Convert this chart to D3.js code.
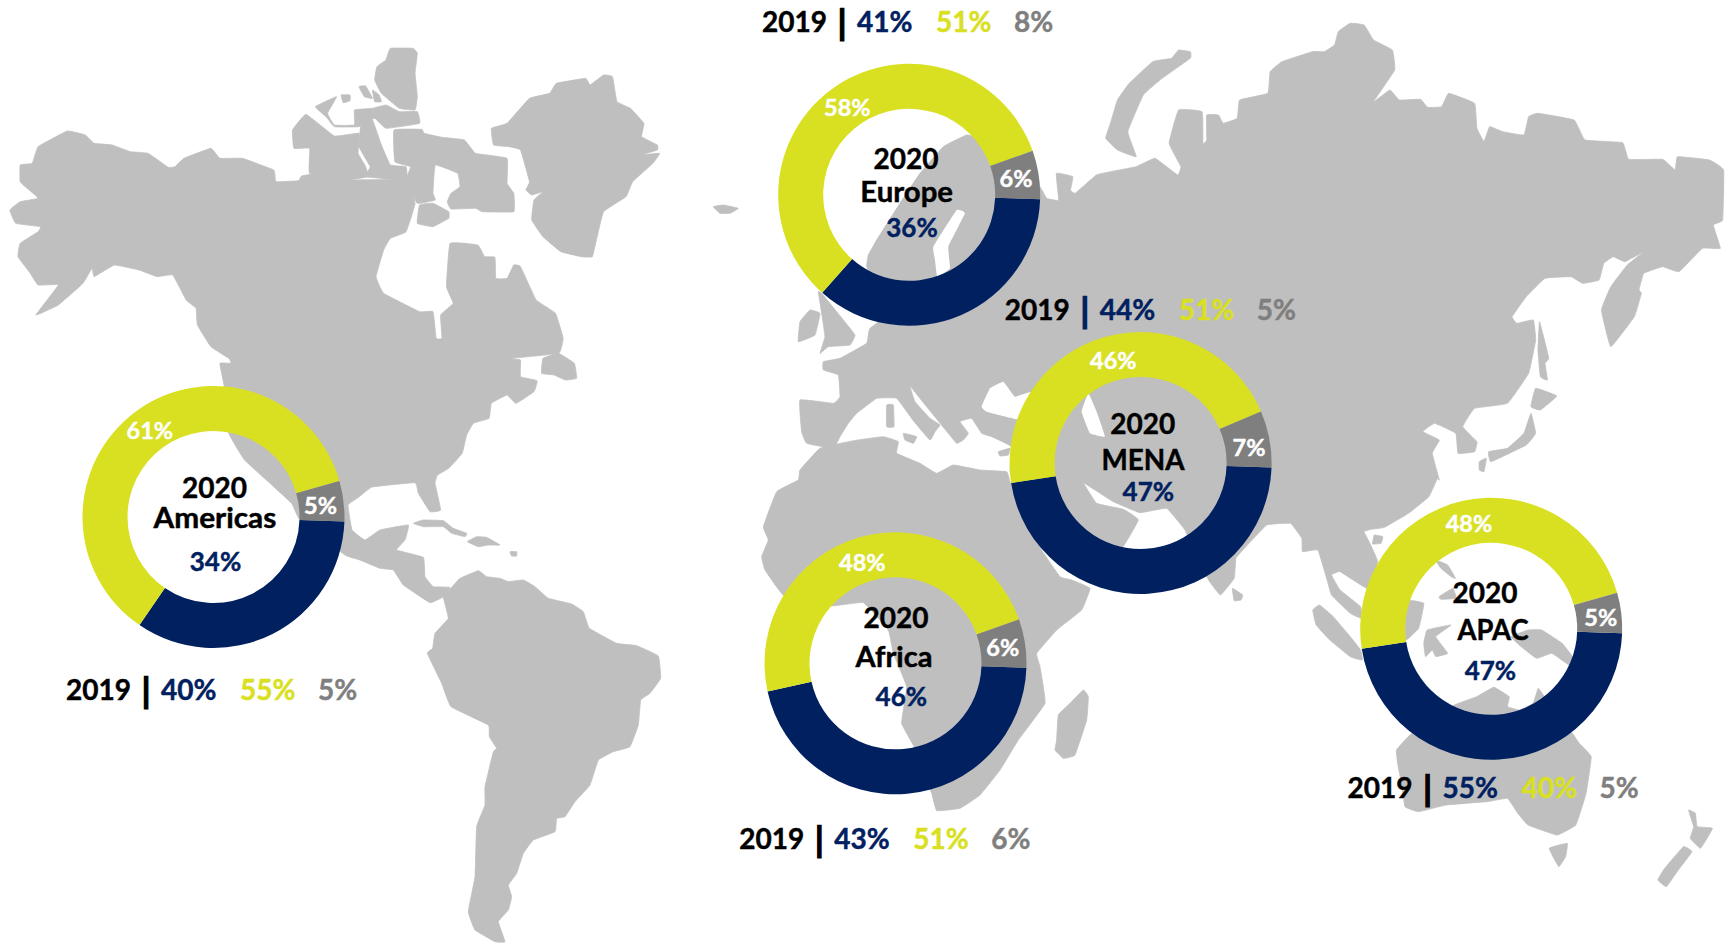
<!DOCTYPE html>
<html><head><meta charset="utf-8">
<script src="https://cdn.jsdelivr.net/npm/d3@7/dist/d3.min.js"></script>
<style>html,body{margin:0;padding:0;background:#fff}svg{display:block}text{font-family:Lato,"Open Sans",sans-serif;font-weight:700;paint-order:stroke}</style>
</head><body><svg id="c" width="1733" height="945"></svg>
<script>
// ---------- chart data ----------
const regions    = ["Europe","MENA","Americas","Africa","APAC"];
const navy2020   = [36,47,34,46,47];
const yellow2020 = [58,46,61,48,48];
const grey2020   = [6,7,5,6,5];
const navy2019   = [41,44,40,43,55];
const yellow2019 = [51,51,55,51,40];
const grey2019   = [8,5,5,6,5];
const yearNow = "2020", yearPrev = "2019";

// ---------- layout (per region) ----------
const centres = [[909.2,194.8],[1140.6,463],[213.5,517],[895.5,663.3],[1491.2,628.8]];
const yellowLabelAt = [[847.3,106.7],[1113.3,360],[149.8,430],[862.3,561.7],[1468.9,523.3]];
const greyLabelAt   = [[1016,178.3],[1249,446.7],[320.5,505],[1002.7,646.7],[1600.8,616.7]];
const yearAt   = [[906,169],[1142.7,434],[214.4,497.7],[896,628],[1485,603.4]];
const nameAt   = [[906.7,201.7],[1143,470],[214.9,527.7],[894,667.4],[1493,640]];
const nameWidth= [92.7,83,122.7,77,71];
const navyAt   = [[912,237.4],[1148.3,500.7],[215.5,570.7],[901.3,705.7],[1490.4,680]];
const rowAt    = [[762,32.4],[1004.7,319.7],[66,700.3],[739.3,849],[1347.6,798]];
const barColour= ["#000","#002060","#000","#000","#000"];
const NAVY="#002060", YELLOW="#D8E021", GREY="#7F7F7F", LAND="#BFBFBF";

// ---------- background map outlines, traced per crop of the picture ----------
const crop = {
 A:{x0:0,y0:30,w:700,h:480,kx:1560/700,ky:3},
 B:{x0:380,y0:480,w:400,h:465,kx:3,ky:3},
 C:{x0:700,y0:0,w:520,h:480,kx:3,ky:3},
 D:{x0:1000,y0:0,w:733,h:480,kx:1560/733,ky:3},
 E:{x0:1200,y0:440,w:533,h:480,kx:1560/533,ky:3},
 F:{x0:720,y0:420,w:520,h:450,kx:3,ky:3},
 P:{x0:0,y0:0,w:1733,h:945,kx:1,ky:1}
};
for(const k in crop){const c=crop[k];
 c.sx=d3.scaleLinear().domain([0,c.w*c.kx]).range([c.x0,c.x0+c.w]);
 c.sy=d3.scaleLinear().domain([0,c.h*c.ky]).range([c.y0,c.y0+c.h]);}

const northAmerica=[["A",[[22,540],[45,515],[85,505],[65,480],[45,455],[45,405],[72,400],[85,350],[150,303],[190,315],[210,340],[250,345],[290,365],[330,370],[375,412],[390,410],[410,385],[470,355],[490,385],[540,385],[610,420],[615,455],[665,452],[672,438],[700,432],[770,450],[905,450],[925,520],[905,605],[870,625],[855,660],[838,740],[855,790],[935,845],[965,845],[972,925],[985,925],[982,855],[1010,820],[995,770],[1003,640],[1065,645],[1080,680],[1103,682],[1105,745],[1130,745],[1145,705],[1160,710],[1195,810],[1238,850],[1255,925],[1245,970],[1140,985],[1160,990],[1160,1040],[1197,1052],[1190,1085],[1150,1120],[1130,1095],[1095,1120],[1090,1165],[1055,1180],[1040,1215],[1030,1270],[1000,1315],[975,1335]]],
 ["B",[[165,10],[182,90],[150,95],[115,40],[105,8]]],
 ["P",[[372,487],[359,497],[348,505],[352,530],[365,540]]],
 ["B",[[0,150],[85,135],[75,180],[50,210],[130,232],[135,290],[160,320],[210,322],[190,350],[150,368],[70,315],[40,270],[0,265]]],
 ["P",[[360,560],[345,555],[300,520]]],
 ["A",[[650,1420],[610,1370],[545,1290],[510,1210],[500,1070],[490,1000],[515,1000],[510,985],[470,950],[440,885],[437,835],[415,810],[385,735],[350,740],[310,720],[255,705],[210,740],[205,715],[185,760],[130,825],[80,855],[130,765],[85,765],[65,725],[40,680],[45,640],[85,605],[90,590],[35,580]]]];

const arcticParts=[
 [["A",[[652,300],[682,253],[745,318],[800,310],[798,370],[815,410],[820,440],[770,450],[690,430],[690,355],[655,355]]]],
 [["A",[[805,280],[830,270],[850,345],[870,405],[905,410],[905,450],[815,440],[825,410],[800,350]]]],
 [["A",[[878,300],[940,298],[945,310],[985,322],[1035,330],[1060,370],[1130,385],[1130,460],[1145,490],[1145,545],[1075,545],[1060,535],[1005,537],[997,515],[1005,490],[1025,470],[1020,430],[970,405],[965,490],[970,510],[930,520],[905,450],[915,410],[880,395]]]],
 [["A",[[935,525],[965,520],[1000,545],[1000,565],[965,590],[930,580]]]],
 [["A",[[870,55],[920,55],[930,70],[925,130],[930,200],[925,240],[890,235],[850,190],[835,150],[840,110],[860,90]]]],
 [["A",[[703,230],[750,200],[730,250],[745,285],[790,285],[790,240],[830,235],[860,225],[890,245],[930,245],[935,280],[860,295],[835,265],[800,290],[745,290],[728,262]]]],
 [["A",[[760,195],[780,195],[780,212],[765,218]]]],
 [["A",[[800,170],[815,168],[830,205],[812,200]]]],
 [["A",[[830,180],[845,195],[850,215],[835,215]]]],
 [["A",[[1207,1030],[1210,985],[1245,970],[1280,1000],[1285,1045],[1260,1050],[1235,1035]]]],
 [["A",[[1095,295],[1130,280],[1180,205],[1225,190],[1240,160],[1305,145],[1315,165],[1345,135],[1365,140],[1375,215],[1405,235],[1435,280],[1430,320],[1465,345],[1465,360],[1430,375],[1470,370],[1455,400],[1410,455],[1395,500],[1345,545],[1330,625],[1320,680],[1295,680],[1250,665],[1210,620],[1185,570],[1190,510],[1210,485],[1185,495],[1172,480],[1180,455],[1160,360],[1135,350],[1100,345]]]]
];
const caribbean=[
 [["B",[[100,130],[130,120],[190,122],[220,145],[260,160],[255,170],[215,160],[190,140],[130,140]]]],
 [["B",[[262,185],[290,170],[320,172],[360,195],[325,195],[295,200]]]],
 [["B",[[390,215],[410,215],[410,228],[395,228]]]]
];
const southAmerica=[["B",[[190,350],[215,322],[240,295],[295,272],[320,290],[360,295],[385,305],[430,300],[465,320],[505,355],[575,372],[610,395],[628,445],[710,490],[770,497],[835,528],[842,595],[810,640],[782,660],[775,735],[750,800],[700,815],[655,840],[630,915],[585,965],[555,1010],[530,1015],[525,1055],[460,1080],[430,1120],[410,1180],[385,1215],[395,1250],[385,1290],[355,1325],[375,1385],[345,1385],[285,1350],[265,1295],[285,1190],[290,1040],[315,975],[315,920],[340,815],[350,805],[328,770],[325,735],[213,680],[185,610],[142,520],[158,505],[165,460],[205,415]]]];

const eurasia=[
 ["C",[[500,800],[505,765],[530,720],[600,610],[660,520],[730,440],[800,405],[840,415],[950,470],[1020,560],[1040,595],[1062,600]]],
 ["D",[[125,600],[120,520],[155,530],[150,570],[160,580],[205,525],[235,515],[290,500],[330,475],[378,525],[385,500],[360,430],[380,330],[430,335],[432,430],[440,420],[440,345],[465,345],[475,370],[505,355],[510,300],[570,280],[575,215],[600,185],[665,155],[690,155],[712,135],[720,95],[745,70],[775,75],[795,120],[835,150],[840,210],[795,305],[830,270],[850,300],[895,298],[910,322],[940,320],[955,280],[1010,310],[1015,385],[1030,425],[1042,380],[1070,395],[1115,405],[1125,350],[1145,340],[1222,360],[1245,420],[1325,428],[1338,478],[1410,478],[1437,510],[1442,470],[1510,480],[1540,510],[1538,660],[1518,675],[1533,745],[1495,745],[1445,815],[1410,800],[1370,820],[1360,870],[1365,880],[1350,950],[1300,1040],[1280,930],[1300,860],[1335,795],[1370,755],[1330,785],[1305,770],[1285,790],[1275,840],[1240,850],[1215,830],[1160,835],[1120,890],[1090,950],[1100,970],[1135,960],[1140,1020],[1125,1120],[1080,1210],[1010,1225],[985,1280],[1015,1325],[1010,1355],[975,1360],[970,1300],[925,1270],[900,1295],[935,1320],[920,1360],[935,1440]]],
 ["E",[[695,115],[670,170],[610,220],[540,262],[500,268],[480,275],[495,305],[520,365],[490,445],[410,395],[385,405],[410,450],[470,500],[472,535],[440,520],[385,465],[372,420],[345,330],[300,335],[298,295],[265,250],[195,255],[130,325],[105,355],[100,415],[60,465],[25,420]]],
 ["F",[[1425,400],[1395,330],[1340,265],[1260,278],[1180,245],[1125,210],[1090,188],[1130,250],[1210,268],[1255,300],[1205,385],[1090,440],[1020,420],[960,350],[905,240],[880,190],[870,150]]],
 ["C",[[935,1340],[875,1310],[845,1300],[815,1255],[780,1265],[805,1300],[790,1320],[770,1330],[745,1300],[680,1220],[640,1170],[630,1160],[645,1205],[690,1255],[720,1275],[705,1295],[690,1320],[640,1262],[590,1195],[530,1195],[470,1240],[445,1270],[420,1310],[400,1345],[320,1330],[305,1295],[300,1200],[400,1210],[420,1190],[415,1125],[370,1110],[370,1085],[420,1075],[500,1030],[510,985],[620,900],[520,840]]]];

const africa=[["F",[[300,85],[400,62],[490,50],[535,65],[530,100],[600,130],[650,160],[700,135],[780,150],[860,155],[870,185],[905,260],[965,390],[1020,470],[1055,480],[1110,505],[1085,570],[1010,630],[950,700],[960,740],[975,850],[895,960],[840,1050],[780,1125],[720,1165],[650,1172],[635,1120],[585,985],[545,910],[560,800],[520,700],[505,630],[430,548],[330,558],[190,525],[135,450],[125,410],[145,360],[130,320],[170,215],[235,180],[240,150]]]];

const islands=[
 [["F",[[1090,810],[1105,830],[1100,900],[1065,1005],[1030,1015],[1005,990],[1010,960],[1015,885],[1050,850]]]],
 [["C",[[355,875],[365,880],[430,960],[465,1005],[450,1035],[385,1040],[360,1060],[375,1010],[365,940]]]],
 [["C",[[300,965],[330,930],[360,940],[345,1005],[295,1025]]]],
 [["C",[[40,620],[70,615],[115,625],[90,640],[60,640]]]],
 [["C",[[560,1215],[580,1215],[582,1280],[560,1280]]]],
 [["C",[[610,1300],[650,1310],[640,1330],[615,1320]]]],
 [["C",[[895,1355],[930,1345],[925,1365],[900,1368]]]],
 [["D",[[380,150],[405,155],[405,175],[345,235],[305,285],[272,395],[290,470],[250,450],[225,415],[235,370],[250,300],[275,250],[325,185],[365,175]]]],
 [["D",[[1148,965],[1155,1000],[1168,1075],[1160,1090],[1165,1140],[1150,1130],[1145,1050]]]],
 [["D",[[1140,1165],[1185,1188],[1150,1230],[1130,1220]]]],
 [["D",[[1130,1240],[1140,1300],[1120,1335],[1045,1385],[1040,1355],[1080,1345],[1115,1300]]]],
 [["D",[[1020,1385],[1035,1375],[1030,1415],[1020,1410]]]],
 [["E",[[510,285],[535,290],[530,310],[505,312]]]],
 [["E",[[95,445],[125,465],[120,480],[100,482]]]],
 [["E",[[330,510],[350,495],[390,530],[440,590],[470,630],[475,660],[440,650],[380,600],[340,555]]]],
 [["E",[[605,480],[655,490],[640,565],[603,600],[600,530]]]],
 [["E",[[665,570],[735,555],[690,590],[725,640],[690,650],[680,630],[660,650],[655,610]]]],
 [["E",[[690,360],[725,375],[748,415],[735,410],[705,385]]]],
 [["E",[[700,470],[740,445],[750,475],[705,478]]]],
 [["E",[[960,570],[1000,570],[1060,610],[1090,650],[1080,675],[1030,640],[985,655],[940,620],[910,590]]]],
 [["E",[[575,930],[620,880],[745,795],[810,770],[860,742],[905,770],[900,800],[935,810],[975,790],[990,745],[1008,770],[1030,800],[1090,880],[1110,910],[1145,950],[1130,1060],[1100,1155],[1045,1185],[960,1155],[930,1120],[900,1075],[840,1085],[720,1095],[640,1115],[600,1100],[590,1030],[580,980]]]],
 [["E",[[1022,1225],[1075,1210],[1070,1250],[1050,1280]]]],
 [["E",[[1430,1110],[1450,1120],[1455,1160],[1500,1165],[1465,1225],[1435,1195],[1445,1160]]]],
 [["E",[[1415,1220],[1440,1235],[1400,1290],[1365,1340],[1340,1320],[1360,1285]]]]
];
const seas=[
 [["C",[[1165,1180],[1190,1235],[1215,1310],[1170,1300],[1145,1235]]]],
 [["C",[[845,1220],[870,1165],[910,1145],[945,1190],[1000,1175],[1040,1260],[960,1260],[860,1235]]]],
 [["C",[[700,740],[705,780],[712,830],[750,805],[745,740],[795,640],[770,630]]]]
];

const svg=d3.select("#c");
const outline=d3.line().curve(d3.curveCardinalClosed.tension(0.75));
const toPath=segs=>outline(segs.flatMap(([k,pts])=>pts.map(([x,y])=>[crop[k].sx(x),crop[k].sy(y)])));
const landG=svg.append("g");
[northAmerica,southAmerica,eurasia,africa,...arcticParts,...caribbean,...islands].forEach(s=>{
  landG.append("path").attr("d",toPath(s)).attr("fill",LAND).attr("stroke",LAND).attr("stroke-width",0.8).attr("stroke-linejoin","round");
});
seas.forEach(s=>landG.append("path").attr("d",toPath(s)).attr("fill","#fff"));

// ---------- doughnuts ----------
const colour=d3.scaleOrdinal().domain(["navy","yellow","grey"]).range([NAVY,YELLOW,GREY]);
const startAngle=92*Math.PI/180;
const pie=d3.pie().sort(null).value(d=>d.v).startAngle(startAngle).endAngle(startAngle+2*Math.PI);
const arc=d3.arc().innerRadius(86).outerRadius(131);

const label=(x,y,t,size,fill,anchor="middle")=>svg.append("text").attr("x",x).attr("y",y).attr("font-size",size).attr("fill",fill).attr("stroke",fill).attr("stroke-width",0.45).attr("text-anchor",anchor).text(t);

regions.forEach((name,i)=>{
  const parts=[{k:"navy",v:navy2020[i]},{k:"yellow",v:yellow2020[i]},{k:"grey",v:grey2020[i]}];
  svg.append("g").attr("transform",`translate(${centres[i]})`)
    .selectAll("path").data(pie(parts)).join("path")
    .attr("d",arc).attr("fill",d=>colour(d.data.k));

  label(yellowLabelAt[i][0],yellowLabelAt[i][1],yellow2020[i]+"%",23.5,"#fff").attr("dominant-baseline","central");
  label(greyLabelAt[i][0],greyLabelAt[i][1],grey2020[i]+"%",23.5,"#fff").attr("dominant-baseline","central");
  label(yearAt[i][0],yearAt[i][1],yearNow,28,"#000");
  label(nameAt[i][0],nameAt[i][1],name,28,"#000").attr("textLength",nameWidth[i]).attr("lengthAdjust","spacingAndGlyphs");
  label(navyAt[i][0],navyAt[i][1],navy2020[i]+"%",26,NAVY);

  const [rx,ry]=rowAt[i];
  label(rx,ry,yearPrev,28,"#000","start");
  label(rx+80,ry+3,"|",35,barColour[i]).attr("stroke-width",1.2);
  label(rx+95,ry,navy2019[i]+"%",28,NAVY,"start");
  label(rx+174,ry,yellow2019[i]+"%",28,YELLOW,"start");
  label(rx+252,ry,grey2019[i]+"%",28,GREY,"start");
});
</script></body></html>
